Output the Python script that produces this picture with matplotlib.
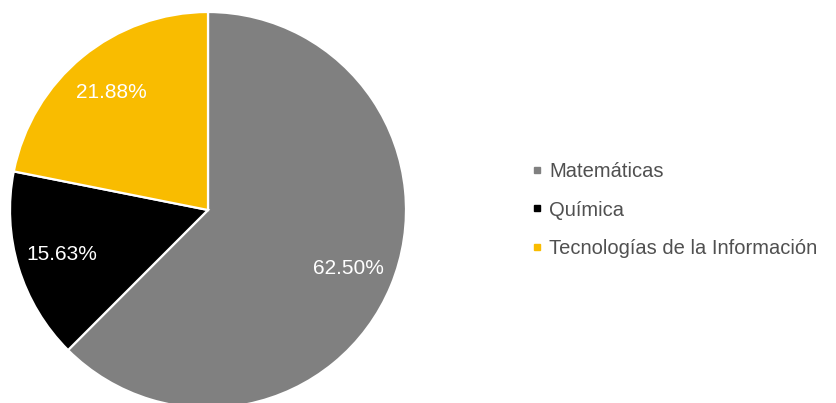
import matplotlib.pyplot as plt
from matplotlib.lines import Line2D

categorias = ["Matemáticas", "Química", "Tecnologías de la Información"]
valores = [62.50, 15.63, 21.88]
colores = ["#808080", "#000000", "#F9BC00"]

plt.rcParams['font.family'] = ['Liberation Sans', 'DejaVu Sans']

fig = plt.figure(figsize=(8.37, 4.03), dpi=100)
ax = fig.add_axes([0, 0, 1, 1])

# pie in pixel coordinates: center (208, 210 from top), radius 198
etiquetas = ['%.2f%%' % v for v in valores]
wedges, textos = ax.pie(
    valores, colors=colores, startangle=90, counterclock=False,
    center=(208, 403 - 210), radius=198,
    labels=etiquetas, labeldistance=0.77,
    wedgeprops=dict(edgecolor='white', linewidth=1.6),
    textprops=dict(color='white', fontsize=15),
)
for t in textos:
    t.set_horizontalalignment('center')
    t.set_verticalalignment('center')

ax.set_xlim(0, 837)
ax.set_ylim(0, 403)
ax.set_aspect('equal')
ax.axis('off')

handles = [Line2D([0], [0], marker='s', linestyle='none', markersize=4.5,
                  markerfacecolor=c, markeredgecolor=c) for c in colores]
fig.legend(handles, categorias, loc='center left', bbox_to_anchor=(524 / 837, 1 - 210 / 403),
           frameon=False, fontsize=14.5, labelcolor='#505050', handlelength=0.5,
           handletextpad=0.35, labelspacing=0.95, borderaxespad=0)

fig.savefig("out.png", dpi=100)
